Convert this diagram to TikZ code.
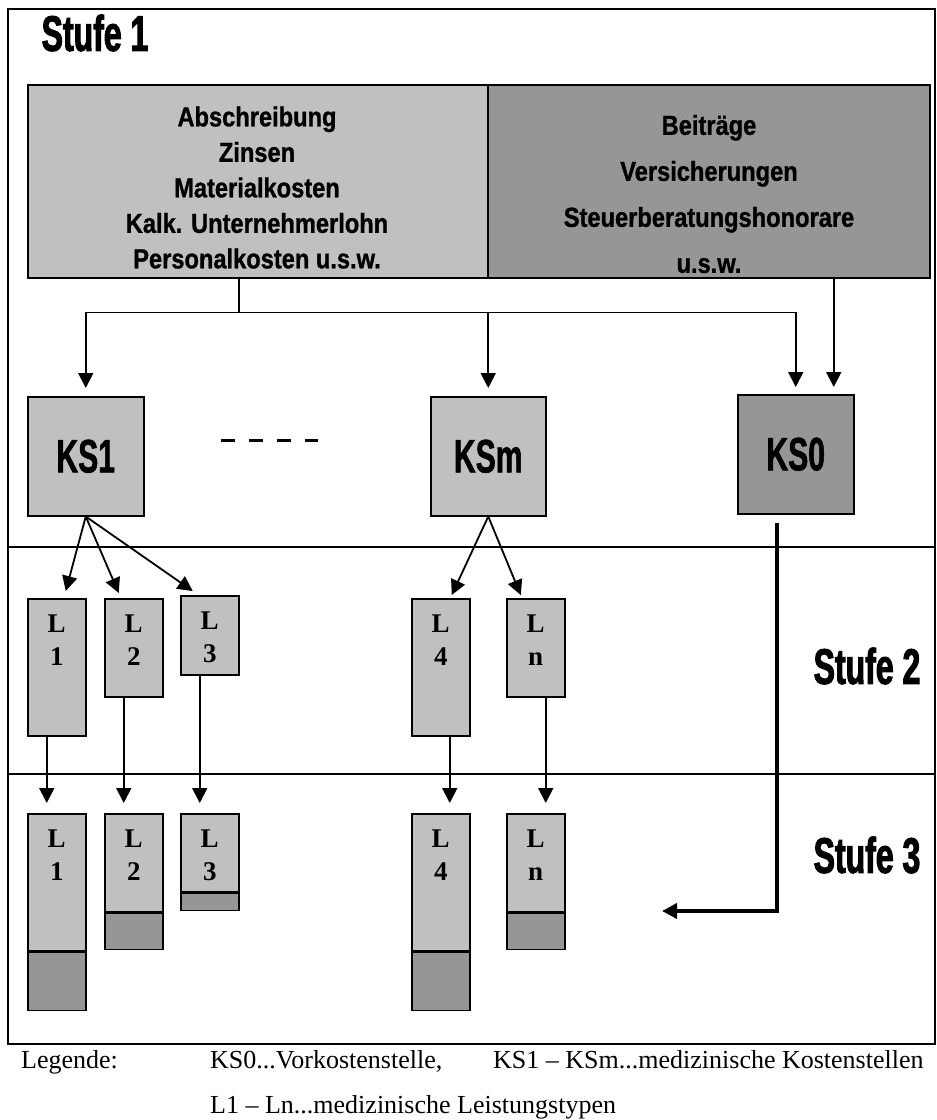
\documentclass[tikz,border=0pt]{standalone}
\usepackage{fontspec}
\setmainfont{Liberation Serif}
\newfontfamily\boxfont[FakeStretch=0.86,FakeBold=1]{Liberation Sans}
\newfontfamily\ksfont[FakeStretch=0.64,FakeBold=1.2]{Liberation Sans}
\newfontfamily\stufefont[FakeStretch=0.64,FakeBold=2]{Liberation Sans}
\usepackage{xcolor}
\usepackage{tikz}
\usetikzlibrary{arrows.meta,positioning}
\definecolor{lgray}{HTML}{C0C0C0}
\definecolor{dgray}{HTML}{969696}

\begin{document}
\begin{tikzpicture}[x=1pt,y=-1pt,>={Triangle[width=15pt,length=15pt]},
 costbox/.style={draw,line width=1.5pt,anchor=north west,inner sep=0pt,minimum height=193pt},
 costtext/.style={inner sep=0pt,align=center,font=\boxfont\bfseries\fontsize{27.5}{#1}\selectfont},
 ksbox/.style={draw,line width=1.5pt,anchor=north west,inner sep=0pt,minimum width=116pt,minimum height=119pt,font=\ksfont\bfseries\fontsize{47}{47}\selectfont},
 lbox/.style={draw,line width=1.5pt,fill=lgray,anchor=north west,inner sep=0pt,minimum width=58pt},
 lpart/.style={draw,line width=1.5pt,fill=dgray,inner sep=0pt,minimum width=58pt},
 ltext/.style={anchor=north,yshift=-17pt,inner sep=0pt,align=center,font=\bfseries\fontsize{27}{33}\selectfont},
 stufe/.style={inner sep=0pt,font=\stufefont\bfseries\fontsize{50}{50}\selectfont},
 legend/.style={anchor=base west,inner sep=0pt,font=\fontsize{26}{26}\selectfont},
 conn/.style={line width=1.6pt},
 arrow/.style={->,line width=1.8pt},
 thickarrow/.style={->,line width=4pt},
 sep/.style={line width=1.2pt}]
\useasboundingbox (0,0) rectangle (937,1120);
\draw[line width=1.5pt] (8,9) rectangle (935,1044);
\draw[sep] (8,547) -- (935,547);
\draw[sep] (8,774) -- (935,774);
% Stufe 1
\node[stufe] (st1) at (95,33) {Stufe 1};
\node[costbox,fill=lgray,minimum width=460pt] (costL) at (27,84) {};
\node[costbox,fill=dgray,minimum width=442pt] (costR) at (487,84) {};
\node[costtext=35.5] (costLtxt) at (257,187.5) {Abschreibung\\Zinsen\\Materialkosten\\Kalk. Unternehmerlohn\\Personalkosten u.s.w.};
\node[costtext=46] (costRtxt) at (709,194) {Beiträge\\Versicherungen\\Steuerberatungshonorare\\u.s.w.};
\node[ksbox,fill=lgray] (KS1) at (27,396) {KS1};
\node[ksbox,fill=lgray,minimum width=115pt] (KSm) at (430,396) {KSm};
\node[ksbox,fill=dgray] (KS0) at (737,394) {KS0};
\coordinate (hub) at ([xshift=-19pt,yshift=-34pt]costL.south);
\draw[conn] ([xshift=-19pt]costL.south) -- (hub);
\draw[arrow,shorten >=8pt] (hub) -| (KS1.north);
\draw[arrow,shorten >=8pt] (hub) -| (KSm.north);
\draw[arrow,shorten >=7pt] (hub) -| (KS0.north);
\draw[arrow,shorten >=7pt] ([xshift=125pt]costR.south) -- ([xshift=38pt]KS0.north);
\draw[line width=3pt,dash pattern=on 14pt off 14pt] ([xshift=76pt,yshift=16pt]KS1.east) -- ++(97,0);
% Stufe 2
\node[stufe] (st2) at (867,666) {Stufe 2};
\node[lbox,minimum height=137pt,label={[ltext]north:{L\\1}}] (L1a) at (27,598) {};
\node[lbox,minimum height=98pt,label={[ltext]north:{L\\2}}] (L2a) at (104,598) {};
\node[lbox,minimum height=79pt,label={[ltext]north:{L\\3}}] (L3a) at (180,595) {};
\node[lbox,minimum height=137pt,label={[ltext]north:{L\\4}}] (L4a) at (411,598) {};
\node[lbox,minimum height=98pt,label={[ltext]north:{L\\n}}] (Lna) at (506,598) {};
\draw[arrow] (KS1.south) -- ([xshift=9pt,yshift=7pt]L1a.north);
\draw[arrow] (KS1.south) -- ([xshift=-15pt,yshift=5pt]L2a.north);
\draw[arrow] (KS1.south) -- ([xshift=-17pt,yshift=4pt]L3a.north);
\draw[arrow] (KSm.south) -- ([xshift=11pt,yshift=3pt]L4a.north);
\draw[arrow] (KSm.south) -- ([xshift=-15pt,yshift=3pt]Lna.north);
% Stufe 3
\node[stufe] (st3) at (867,855) {Stufe 3};
\node[lbox,minimum height=137pt,label={[ltext]north:{L\\1}}] (L1b) at (27,813) {};
\node[lbox,minimum height=98pt,label={[ltext]north:{L\\2}}] (L2b) at (104,813) {};
\node[lbox,minimum height=78pt,label={[ltext]north:{L\\3}}] (L3b) at (180,813) {};
\node[lbox,minimum height=137pt,label={[ltext]north:{L\\4}}] (L4b) at (411,813) {};
\node[lbox,minimum height=98pt,label={[ltext]north:{L\\n}}] (Lnb) at (506,813) {};
\node[lpart,minimum height=58pt,below=0pt of L1b] (L1d) {};
\node[lpart,minimum height=36pt,below=0pt of L2b] (L2d) {};
\node[lpart,minimum height=17pt,below=0pt of L3b] (L3d) {};
\node[lpart,minimum height=58pt,below=0pt of L4b] (L4d) {};
\node[lpart,minimum height=36pt,below=0pt of Lnb] (Lnd) {};
\draw[arrow,shorten >=10pt] ([xshift=-10pt]L1a.south) -- ([xshift=-10pt]L1b.north);
\draw[arrow,shorten >=10pt] ([xshift=-10pt]L2a.south) -- ([xshift=-10pt]L2b.north);
\draw[arrow,shorten >=10pt] ([xshift=-10pt]L3a.south) -- ([xshift=-10pt]L3b.north);
\draw[arrow,shorten >=10pt] ([xshift=9pt]L4a.south) -- ([xshift=9pt]L4b.north);
\draw[arrow,shorten >=10pt] ([xshift=10pt]Lna.south) -- ([xshift=10pt]Lnb.north);
\coordinate (alloc) at (662,911);
\draw[thickarrow] ([xshift=-19pt,yshift=-8pt]KS0.south) |- (alloc);
% Legende
\node[legend] (leg) at (21,1068) {Legende:};
\node[legend] (legKS0) at (210,1068) {KS0...Vorkostenstelle,};
\node[legend] (legKS) at (493,1068) {KS1 – KSm...medizinische Kostenstellen};
\node[legend] (legL) at (210,1113) {L1 – Ln...medizinische Leistungstypen};
\end{tikzpicture}
\end{document}
